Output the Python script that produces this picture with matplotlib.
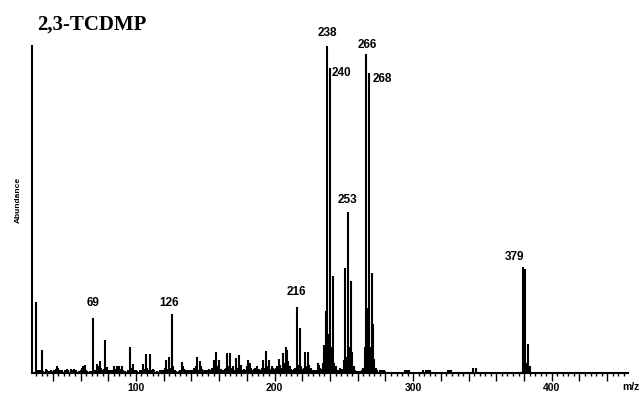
import numpy as np
import matplotlib
matplotlib.use("Agg")
import matplotlib.pyplot as plt
from matplotlib.ticker import FixedLocator, FuncFormatter

# mass spectrum, values (% of base peak)
mz = [28, 29, 30, 31, 32, 33, 35, 36, 37, 39, 40, 41, 42, 43, 44, 45, 47, 49, 50, 51,
      53, 54, 55, 56, 57, 59, 60, 61, 62, 63, 64, 65, 67, 68, 69, 70, 71, 72, 73, 74,
      75, 76, 77, 78, 79, 80, 81, 82, 83, 84, 85, 86, 87, 88, 89, 90, 91, 92, 94, 95,
      96, 97, 98, 99, 100, 101, 103, 104, 105, 106, 107, 108, 109, 110, 111, 112, 113, 115, 117, 118,
      119, 120, 121, 122, 123, 124, 125, 126, 127, 128, 129, 131, 132, 133, 134, 135, 136, 137, 138, 139,
      140, 141, 142, 143, 144, 145, 146, 147, 148, 149, 150, 151, 152, 153, 154, 155, 156, 157, 158, 159,
      160, 161, 162, 163, 164, 165, 166, 167, 168, 169, 170, 171, 172, 173, 174, 175, 176, 177, 178, 179,
      180, 181, 182, 183, 184, 185, 186, 187, 188, 189, 190, 191, 192, 193, 194, 195, 196, 197, 198, 199,
      200, 201, 202, 203, 204, 205, 206, 207, 208, 209, 210, 211, 212, 213, 214, 215, 216, 217, 218, 219,
      220, 221, 222, 223, 224, 225, 226, 227, 228, 229, 230, 231, 232, 233, 234, 235, 236, 237, 238, 239,
      240, 241, 242, 243, 244, 245, 246, 247, 248, 249, 250, 251, 252, 253, 254, 255, 256, 257, 258, 259,
      260, 262, 263, 264, 265, 266, 267, 268, 269, 270, 271, 272, 273, 274, 276, 277, 278, 279, 280,
      294, 295, 296, 297, 307, 309, 310, 311, 312, 325, 326, 327, 343, 345,
      379, 380, 381, 382, 383, 384]
abund = [21.7, 1.0, 0.5, 1.0, 7.1, 0.5, 1.2, 0.8, 0.6, 0.8, 0.6, 1.0, 1.2, 2.0, 1.5, 1.0, 0.8, 1.0, 1.3, 1.0,
         1.2, 0.8, 1.3, 0.6, 1.0, 0.6, 1.0, 1.5, 2.0, 2.3, 0.8, 0.6, 0.5, 0.6, 16.8, 0.8, 1.0, 2.9, 2.0, 3.6,
         1.5, 0.8, 1.2, 10.2, 1.8, 1.0, 0.8, 0.6, 1.0, 2.0, 1.2, 2.0, 1.0, 2.0, 1.2, 2.0, 1.0, 0.6, 0.8, 1.0,
         8.0, 1.5, 2.9, 1.0, 0.8, 0.6, 0.8, 1.0, 2.6, 1.2, 5.8, 1.5, 1.0, 5.8, 1.0, 1.2, 0.8, 0.6, 0.8, 0.6,
         1.0, 0.8, 1.5, 3.9, 1.2, 4.8, 1.5, 18.0, 2.2, 1.0, 0.6, 0.6, 1.0, 3.4, 2.0, 1.2, 1.0, 0.8, 1.0, 0.8,
         1.0, 0.8, 1.5, 2.0, 4.8, 1.0, 3.8, 2.0, 1.2, 1.0, 0.8, 1.0, 1.0, 1.2, 1.0, 1.5, 4.0, 1.5, 6.3, 2.0,
         4.0, 1.2, 1.0, 1.0, 1.2, 1.5, 6.2, 2.0, 6.2, 1.5, 2.0, 1.0, 4.5, 1.5, 5.5, 2.0, 2.5, 1.0, 1.2, 1.0,
         2.0, 4.0, 3.2, 1.5, 1.0, 1.2, 1.5, 2.0, 1.0, 1.2, 1.0, 1.5, 4.0, 1.5, 6.6, 2.0, 4.0, 1.2, 2.0, 1.5,
         1.2, 1.5, 2.0, 4.4, 2.5, 1.5, 6.2, 3.0, 7.9, 7.0, 3.6, 2.0, 1.2, 1.0, 1.2, 1.5, 20.2, 2.5, 13.8, 2.0,
         1.2, 1.5, 6.4, 2.0, 6.4, 2.5, 1.5, 1.0, 1.0, 0.8, 1.0, 3.0, 2.5, 1.5, 1.2, 3.0, 8.5, 19.0, 100.0, 12.0,
         93.3, 8.0, 29.7, 3.0, 2.0, 1.0, 0.8, 1.5, 1.0, 1.2, 4.0, 32.0, 5.0, 49.2, 8.0, 28.0, 6.5, 2.0, 1.0, 0.6,
         0.5, 0.6, 0.8, 1.5, 8.0, 97.6, 20.0, 91.7, 8.0, 30.6, 15.0, 4.4, 1.5, 0.8, 0.8, 0.8, 0.8, 0.8, 0.6,
         0.8, 0.8, 0.8, 0.8, 1.0, 1.0, 1.0, 1.0, 1.0, 1.0, 1.0, 1.0, 1.5, 1.5,
         32.4, 4.0, 31.8, 3.0, 9.0, 2.0]

labelled = [69, 126, 216, 238, 240, 253, 266, 268, 379]

fig = plt.figure(figsize=(6.42, 3.94), dpi=100)
ax = fig.add_axes([32/642, 21/394, 596/642, 327/394])

ax.vlines(mz, 0, abund, color='black', lw=1.5)
ax.set_xlim(25, 455)
ax.set_ylim(0, 100)

for s in ['top', 'right']:
    ax.spines[s].set_visible(False)
ax.spines['left'].set_linewidth(1.5)
ax.spines['bottom'].set_linewidth(1.5)
ax.set_yticks([])

ax.xaxis.set_major_locator(FixedLocator(np.arange(40, 441, 20)))
ax.xaxis.set_minor_locator(FixedLocator(np.arange(28, 453, 4)))
ax.xaxis.set_major_formatter(FuncFormatter(lambda v, p: '%d' % v if v % 100 == 0 else ''))
ax.tick_params(axis='x', which='major', length=5.5, width=1.0, pad=2,
               labelsize=7.5)
ax.tick_params(axis='x', which='minor', length=2.5, width=1.0)
for t in ax.get_xticklabels():
    t.set_fontweight('bold')
    t.set_family('Liberation Sans')

lab = dict(family='Liberation Sans', weight='bold', fontsize=8.5)
val = dict(zip(mz, abund))
# label placement (dx in m/z, dy in %)
offs = {69: (0, 2.8, 'center'), 126: (-2, 1.6, 'center'), 216: (0, 2.8, 'center'),
        238: (0, 2.0, 'center'), 240: (1.2, -3.5, 'left'), 253: (-0.5, 1.8, 'center'),
        266: (1, 0.9, 'center'), 268: (2.5, -3.5, 'left'), 379: (-6, 1.2, 'center')}
for m in labelled:
    dx, dy, ha = offs[m]
    ax.text(m + dx, val[m] + dy, str(m), ha=ha, va='bottom', **lab)

fig.text(37/642, 1 - 30/394, '2,3-TCDMP', family='Liberation Serif',
         weight='bold', fontsize=15, va='baseline')
fig.text(631/642, 1 - 390/394, 'm/z', family='Liberation Sans', weight='bold',
         fontsize=7.5, ha='center', va='baseline')
fig.text(18/642, 1 - 200/394, 'Abundance', family='Liberation Sans', weight='bold',
         fontsize=6, rotation=90, ha='center', va='center')

fig.savefig('out.png', dpi=100)
